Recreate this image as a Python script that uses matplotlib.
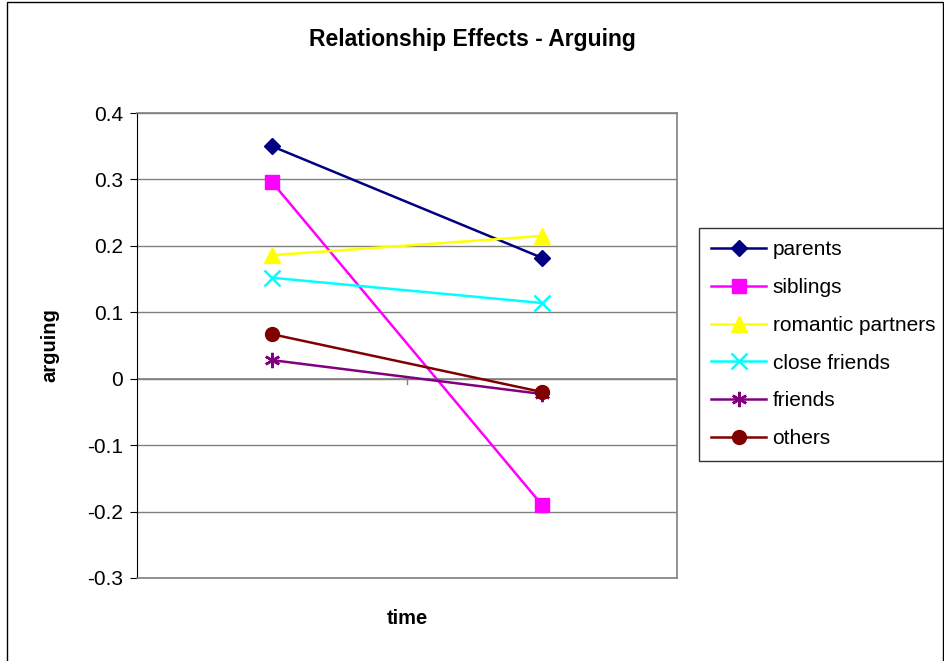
import matplotlib
matplotlib.use('Agg')
import matplotlib.pyplot as plt
from matplotlib.patches import Rectangle

plt.rcParams['font.family'] = ['Liberation Sans', 'DejaVu Sans']

# data
times = [0, 1]
series = ['parents', 'siblings', 'romantic partners', 'close friends', 'friends', 'others']
parents = [0.350, 0.182]
siblings = [0.296, -0.190]
romantic = [0.186, 0.215]
close_friends = [0.152, 0.114]
friends = [0.028, -0.023]
others = [0.067, -0.020]
yticks = [0.4, 0.3, 0.2, 0.1, 0, -0.1, -0.2, -0.3]

values = [parents, siblings, romantic, close_friends, friends, others]
colors = ['#000080', '#FF00FF', '#FFFF00', '#00FFFF', '#800080', '#800000']
markers = ['D', 's', '^', 'x', (6, 2, 0), 'o']
sizes = [8, 10, 11, 11, 11, 10]

fig = plt.figure(figsize=(9.45, 6.61), dpi=100)
ax = fig.add_axes([0.145, 0.1256, 0.5714, 0.7034])

for name, vals, c, m, s in zip(series, values, colors, markers, sizes):
    ax.plot(times, vals, color=c, marker=m, markersize=s, linewidth=1.8,
            markeredgewidth=1.8 if m in ('x', (6, 2, 0)) else 1,
            markeredgecolor=c, label=name, clip_on=False, zorder=3)

ax.set_xlim(-0.5, 1.5)
ax.set_ylim(-0.3, 0.4)
ax.set_yticks(yticks)
ax.set_yticklabels(['0.4', '0.3', '0.2', '0.1', '0', '-0.1', '-0.2', '-0.3'])
ax.tick_params(axis='y', labelsize=15, direction='out', length=5, color='black', pad=5)
ax.yaxis.grid(True, color='#808080', linewidth=1)
ax.set_axisbelow(True)

# category axis crosses at zero
ax.set_xticks([])
ax.axhline(0, color='#808080', linewidth=1.2, zorder=2)
ax.plot([0.5, 0.5], [0, -0.008], color='#808080', linewidth=1, zorder=2)

for side in ['top', 'right', 'bottom']:
    ax.spines[side].set_color('#808080')
    ax.spines[side].set_linewidth(1.2)
ax.spines['left'].set_color('black')

ax.set_xlabel('time', fontsize=14.5, fontweight='bold', labelpad=22)
ax.set_ylabel('arguing', fontsize=14.5, fontweight='bold', labelpad=20)

fig.suptitle('Relationship Effects - Arguing', fontsize=16.5, fontweight='bold', y=0.957)

leg = ax.legend(loc='upper left', bbox_to_anchor=(1.04, 0.753), fontsize=15,
                frameon=True, fancybox=False, edgecolor='black',
                handlelength=2.65, labelspacing=0.9, borderpad=0.6,
                handletextpad=0.3, borderaxespad=0)
leg.get_frame().set_linewidth(1)

# outer chart border
fig.patches.append(Rectangle((7 / 945, -0.05), 936 / 945, 1.05 - 2 / 661,
                             transform=fig.transFigure, fill=False,
                             edgecolor='black', linewidth=1))

fig.savefig('out.png', dpi=100)
